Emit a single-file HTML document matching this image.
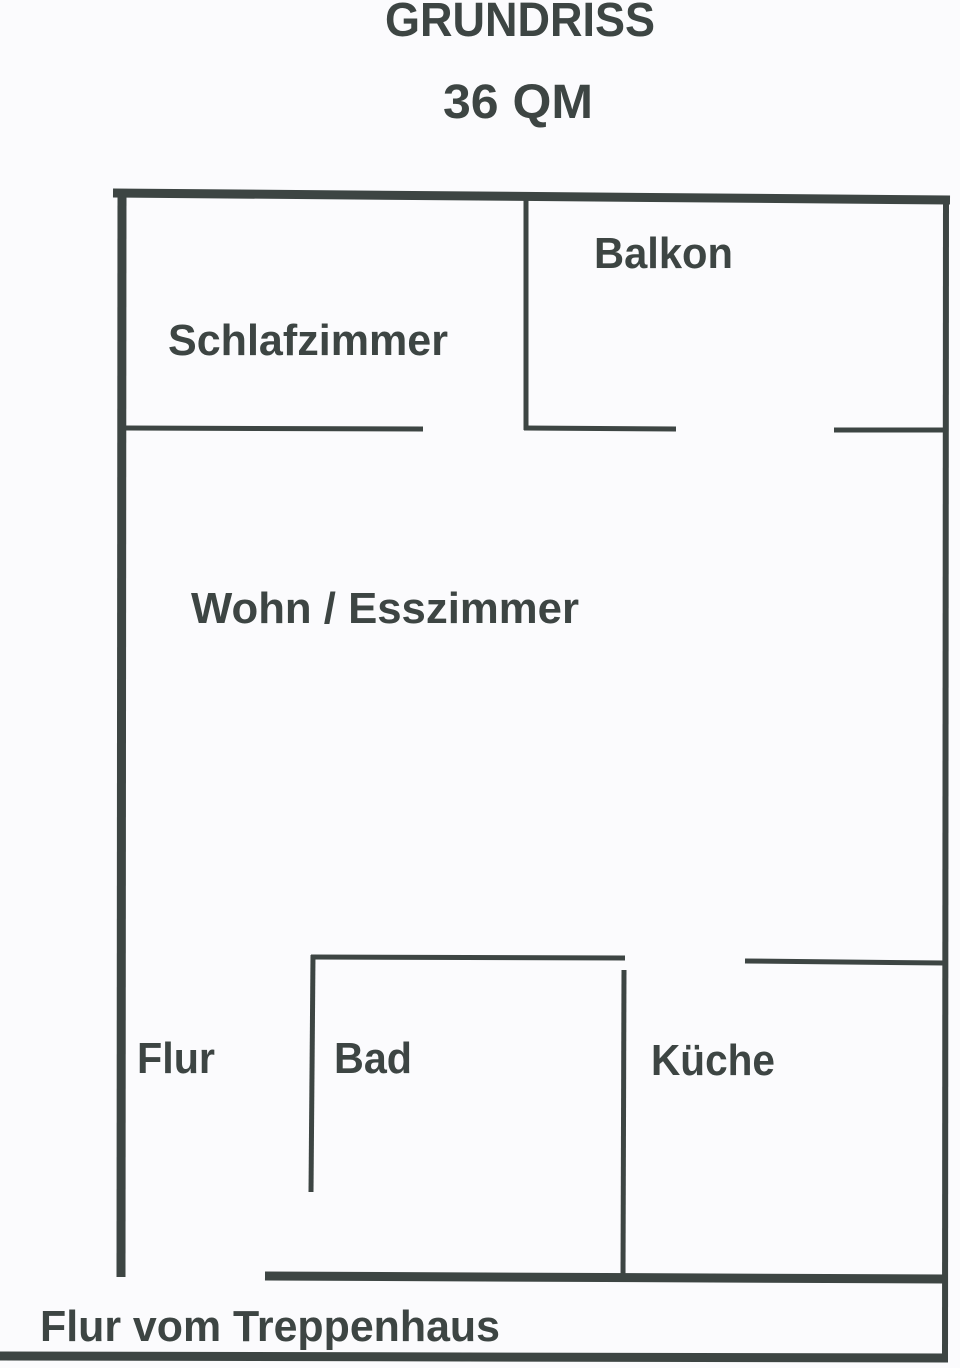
<!DOCTYPE html>
<html><head><meta charset="utf-8"><style>
html,body{margin:0;padding:0;background:#fbfbfd;}
svg{display:block}
.l{font-family:"Liberation Sans",sans-serif;font-weight:bold;fill:#3d4543;font-size:44px}
.t{font-family:"Liberation Sans",sans-serif;font-weight:900;fill:#3d4543;font-size:48px}
</style></head><body>
<svg width="960" height="1368" viewBox="0 0 960 1368" xmlns="http://www.w3.org/2000/svg">
<g stroke="#3d4543" stroke-linecap="butt" fill="none">
<line x1="113" y1="193" x2="950" y2="200" stroke-width="9"/>
<line x1="122" y1="189" x2="121" y2="1277" stroke-width="9"/>
<line x1="946" y1="196" x2="945" y2="1362" stroke-width="6"/>
<line x1="0" y1="1356" x2="948" y2="1358" stroke-width="9"/>
<line x1="265" y1="1276" x2="945" y2="1279" stroke-width="9"/>
<line x1="122" y1="428" x2="423" y2="429" stroke-width="5"/>
<line x1="526" y1="200" x2="526" y2="430" stroke-width="5"/>
<line x1="524" y1="428" x2="676" y2="429" stroke-width="5"/>
<line x1="834" y1="430" x2="946" y2="430" stroke-width="5"/>
<line x1="311" y1="957" x2="625" y2="958" stroke-width="5"/>
<line x1="313" y1="955" x2="311" y2="1192" stroke-width="5"/>
<line x1="624" y1="970" x2="623" y2="1278" stroke-width="5"/>
<line x1="745" y1="961" x2="944" y2="963" stroke-width="5"/>
</g>
<text class="t" x="520" y="36" text-anchor="middle" textLength="270" lengthAdjust="spacingAndGlyphs">GRUNDRISS</text>
<text class="t" x="518" y="118" text-anchor="middle" textLength="150" lengthAdjust="spacingAndGlyphs">36 QM</text>
<text class="l" x="594" y="268" textLength="139" lengthAdjust="spacingAndGlyphs">Balkon</text>
<text class="l" x="168" y="355" textLength="280" lengthAdjust="spacingAndGlyphs">Schlafzimmer</text>
<text class="l" x="191" y="623" textLength="388" lengthAdjust="spacingAndGlyphs">Wohn / Esszimmer</text>
<text class="l" x="137" y="1073" textLength="78" lengthAdjust="spacingAndGlyphs">Flur</text>
<text class="l" x="334" y="1073" textLength="78" lengthAdjust="spacingAndGlyphs">Bad</text>
<text class="l" x="651" y="1075" textLength="124" lengthAdjust="spacingAndGlyphs">Küche</text>
<text class="l" x="40" y="1341" textLength="460" lengthAdjust="spacingAndGlyphs">Flur vom Treppenhaus</text>
</svg>
</body></html>
